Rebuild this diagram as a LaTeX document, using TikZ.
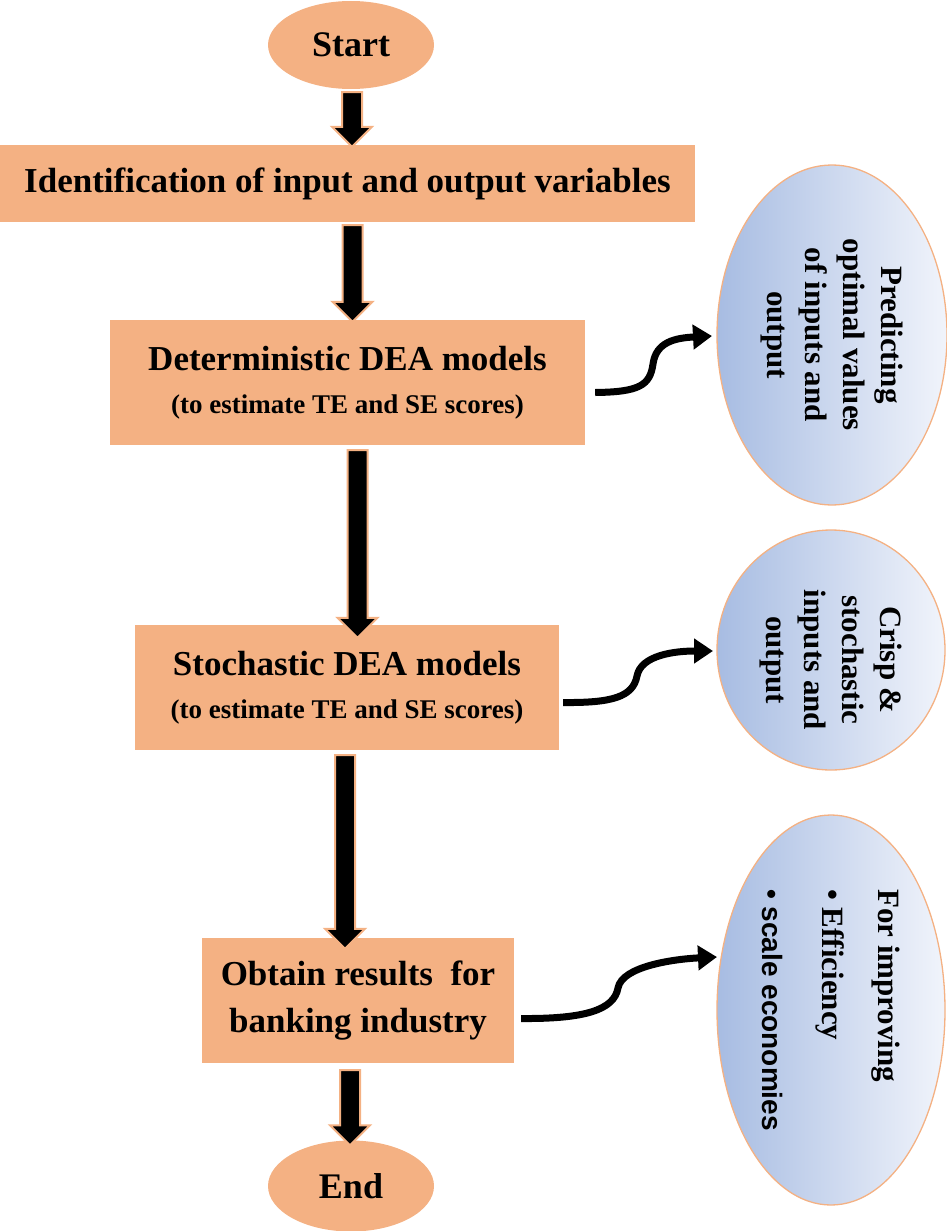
\documentclass[tikz,border=0pt]{standalone}
\usepackage{fontspec}
\setmainfont{Liberation Serif}
\newfontfamily\sansf{Liberation Sans}
\usetikzlibrary{shapes.geometric,arrows.meta,calc}
\definecolor{salmon}{HTML}{F4B183}
\definecolor{bluedark}{HTML}{A7BCE2}
\definecolor{bluelight}{HTML}{F1F4FB}
\newcommand{\blockarrow}[2]{%
  \path[blk] let \p1=(#1), \p2=(#2) in
    (\x1-10,\y1) -- (\x1+10,\y1) -- (\x1+10,\y2+20) -- (\x1+20,\y2+20)
    -- (\x1,\y2) -- (\x1-20,\y2+20) -- (\x1-10,\y2+20) -- cycle;}
\tikzset{
  box/.style={rectangle, fill=salmon, inner sep=0pt, align=center,
    font=\bfseries\fontsize{35}{47}\selectfont},
  term/.style={ellipse, fill=salmon, inner sep=0pt, minimum width=166pt,
    minimum height=88pt, font=\bfseries\fontsize{36}{40}\selectfont},
  note/.style={ellipse, draw=salmon, line width=1.3pt, left color=bluedark,
    right color=bluelight, rotate=-90, inner sep=0pt,
    font=\bfseries\fontsize{31}{38}\selectfont},
  blk/.style={fill=black, draw=salmon, line width=2pt, line join=miter},
  curvy/.style={line width=7pt, -{Triangle[length=19pt,width=24pt]}},
}
\begin{document}
\begin{tikzpicture}[x=1pt,y=1pt]
\useasboundingbox (0,0) rectangle (947,-1231);
% main column
\node[term] (start) at (351,-45) {Start};
\node[box, minimum width=695pt, minimum height=77pt] (b1) at (347.5,-183.5)
  {Identification of input and output variables};
\node[box, minimum width=475pt, minimum height=125pt] (b2) at (347.5,-382.5)
  {Deterministic DEA models\\[-4pt]{\fontsize{27}{30}\selectfont (to estimate TE and SE scores)}};
\node[box, minimum width=424pt, minimum height=125pt] (b3) at (347,-687.5)
  {Stochastic DEA models\\[-4pt]{\fontsize{27}{30}\selectfont (to estimate TE and SE scores)}};
\node[box, minimum width=312pt, minimum height=125pt] (b4) at (358,-1000.5)
  {Obtain results\ \ for\\banking industry};
\node[term, minimum height=91pt] (end) at (351,-1186) {End};
% side notes
\node[note, minimum width=340pt, minimum height=230pt, align=center] (e1) at (832,-335)
  {Predicting\\optimal values\\of inputs and\\output};
\node[note, minimum width=240pt, minimum height=228pt, align=center] (e2) at (831,-650)
  {\hspace*{20pt}Crisp \&\\\hspace*{20pt}stochastic\\\hspace*{20pt}inputs and\\\hspace*{20pt}output};
\node[note, minimum width=390pt, minimum height=228pt, align=left] (e3) at (831,-1010)
  {For improving\\[18pt]\textbullet\ Efficiency\\[22pt]{\sansf\fontsize{28}{30}\selectfont\textbullet\ scale economies}};
% block arrows
\blockarrow{$(start.south)+(1,-3)$}{$(b1.north)+(0,-2)$}
\blockarrow{$(b1.south)+(5,-3)$}{$(b2.north)+(0,-2)$}
\blockarrow{$(b2.south)+(10,-5)$}{$(b3.north)+(0,-13)$}
\blockarrow{$(b3.south)+(-2,-5)$}{$(b4.north)+(0,-11)$}
\blockarrow{$(b4.south)+(-8,-7)$}{$(end.north)+(0,-5)$}
% curved connectors
\coordinate (t1) at ($(e1.center)+(-120,-1)$);
\coordinate (t2) at ($(e2.center)+(-118,-1)$);
\coordinate (t3) at ($(e3.center)+(-114,53)$);
\draw[curvy] ($(b2.east)+(10,-10)$) .. controls (640,-392) and (650,-385) .. (653,-364)
  .. controls (656,-342) and (675,-338) .. (t1);
\draw[curvy] ($(b3.east)+(4,-15)$) .. controls (612,-703) and (633,-697) .. (637,-676)
  .. controls (641,-655) and (675,-651) .. (t2);
\draw[curvy] ($(b4.east)+(7,-18)$) .. controls (585,-1019) and (614,-1010) .. (618,-988)
  .. controls (622,-966) and (675,-959) .. (t3);
\end{tikzpicture}
\end{document}
